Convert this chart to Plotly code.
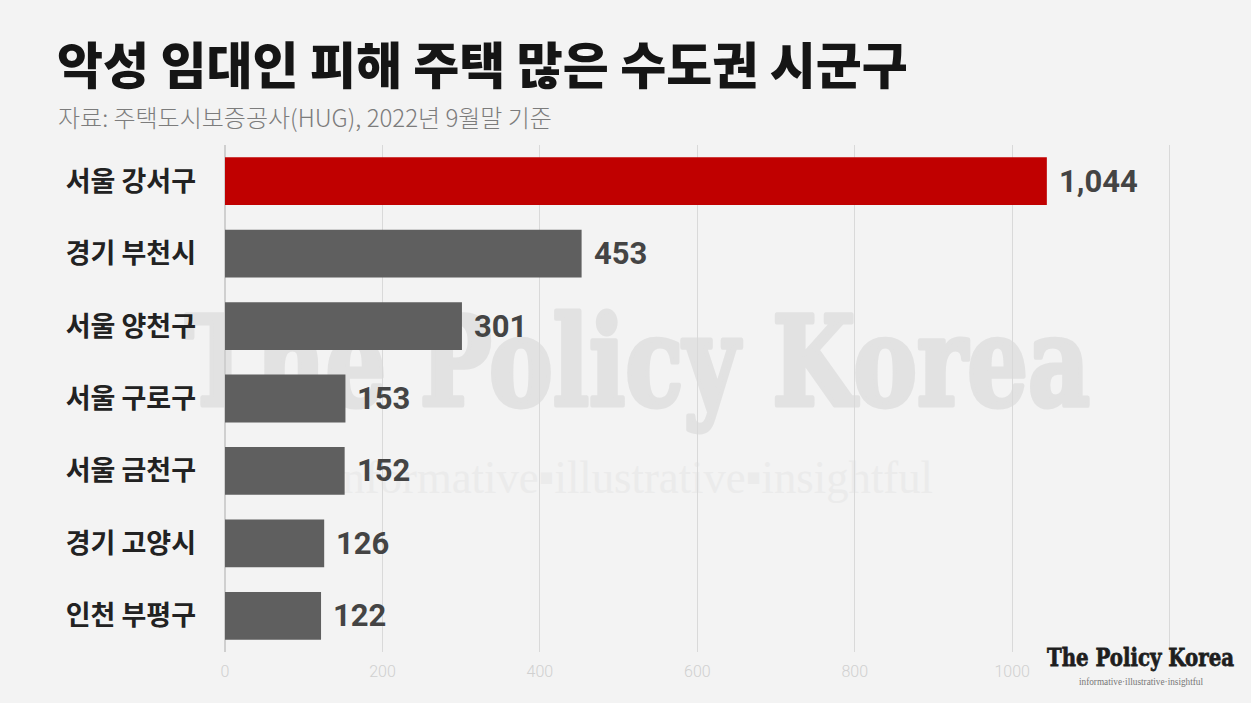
import base64
import plotly.graph_objects as go

# ---- data ----
categories = ["서울 강서구", "경기 부천시", "서울 양천구", "서울 구로구", "서울 금천구", "경기 고양시", "인천 부평구"]
values = [1044, 453, 301, 153, 152, 126, 122]
highlight = ["서울 강서구"]
tick_vals = [0, 200, 400, 600, 800, 1000, 1200]
tick_text = ["0", "200", "400", "600", "800", "1000", ""]

title_text = "악성 임대인 피해 주택 많은 수도권 시군구"
subtitle_text = "자료: 주택도시보증공사(HUG), 2022년 9월말 기준"
brand = "The Policy Korea"
slogan = "informative▪illustrative▪insightful"
slogan_small = "informative·illustrative·insightful"

# ---- layout geometry ----
W, H = 1251, 703
L, R, T, B = 225, 42, 145, 51
PW, PH = W - L - R, H - T - B

BG = "#f3f3f3"
KR = "Noto Sans CJK KR"


def px(xp):
    return (xp - L) / PW


def py(yp):
    return 1 - (yp - T) / PH


bar_colors = ["#c00000" if c in highlight else "#5f5f5f" for c in categories]

fig = go.Figure()
fig.add_trace(go.Bar(
    x=values, y=categories, orientation="h",
    marker=dict(color=bar_colors, line=dict(width=0)),
    width=0.66, hoverinfo="skip",
))

# value labels
for c, v in zip(categories, values):
    fig.add_annotation(
        x=v, y=c, xref="x", yref="y", text=f"{v:,}", showarrow=False,
        xanchor="left", yanchor="middle", xshift=10, yshift=0,
        font=dict(family="Roboto", size=31, color="#444444", weight="bold"),
    )

# title & subtitle
fig.add_annotation(
    x=px(55), y=py(62), xref="paper", yref="paper", text=title_text, showarrow=False,
    xanchor="left", yanchor="middle",
    font=dict(family=KR, size=50, color="#151515", weight=900),
)
fig.add_annotation(
    x=px(56), y=py(117), xref="paper", yref="paper", text=subtitle_text, showarrow=False,
    xanchor="left", yanchor="middle",
    font=dict(family=KR, size=24, color="#7c7c7c", weight=300),
)

# watermark (below traces) as svg image
wm_svg = f'''<svg xmlns="http://www.w3.org/2000/svg" width="{W}" height="{H}" viewBox="0 0 {W} {H}">
<text x="185" y="405" font-family="DejaVu Serif, Liberation Serif, serif" font-weight="bold" font-size="124"
 fill="#e2e2e2" stroke="#e2e2e2" stroke-width="5" stroke-linejoin="round"
 textLength="905" lengthAdjust="spacingAndGlyphs">{brand}</text>
<text x="330" y="493" font-family="Liberation Serif, DejaVu Serif, serif" font-size="47"
 fill="#ebebeb" textLength="603" lengthAdjust="spacingAndGlyphs">{slogan}</text>
</svg>'''
logo_svg = f'''<svg xmlns="http://www.w3.org/2000/svg" width="{W}" height="{H}" viewBox="0 0 {W} {H}">
<rect x="1040" y="655" width="200" height="40" fill="{BG}"/>
<text x="1047" y="666" font-family="DejaVu Serif, Liberation Serif, serif" font-weight="bold" font-size="25"
 fill="#1e1e1e" stroke="#1e1e1e" stroke-width="0.8"
 textLength="187" lengthAdjust="spacingAndGlyphs">{brand}</text>
<text x="1079" y="685" font-family="Liberation Serif, DejaVu Serif, serif" font-size="10"
 fill="#777777" textLength="124" lengthAdjust="spacingAndGlyphs">{slogan_small}</text>
</svg>'''


def uri(s):
    return "data:image/svg+xml;base64," + base64.b64encode(s.encode("utf-8")).decode()


for s, layer in ((wm_svg, "below"), (logo_svg, "above")):
    fig.add_layout_image(
        source=uri(s), xref="paper", yref="paper",
        x=px(0), y=py(0), sizex=W / PW, sizey=H / PH,
        xanchor="left", yanchor="top", sizing="stretch", layer=layer,
    )

fig.update_layout(
    width=W, height=H,
    margin=dict(l=L, r=R, t=T, b=B, pad=0),
    paper_bgcolor=BG, plot_bgcolor="rgba(0,0,0,0)",
    showlegend=False, bargap=0.34,
    xaxis=dict(
        range=[0, 1250], tickvals=tick_vals, ticktext=tick_text,
        showgrid=True, gridcolor="#d9d9d9", gridwidth=1,
        zeroline=True, zerolinecolor="#cfcfcf", zerolinewidth=2,
        showline=False, ticks="", ticklabelstandoff=8,
        tickfont=dict(family="Roboto", size=16, color="#d0d0d0", weight=300),
        fixedrange=True,
    ),
    yaxis=dict(
        categoryorder="array", categoryarray=categories, autorange="reversed",
        showgrid=False, zeroline=False, showline=False, ticks="",
        ticklabelstandoff=28,
        tickfont=dict(family=KR, size=27, color="#222222", weight="bold"),
        fixedrange=True,
    ),
)

fig.write_html(
    "out.html",
    config={"displayModeBar": False},
    post_script="document.body.style.margin='0';document.body.style.background='" + BG + "';",
)
